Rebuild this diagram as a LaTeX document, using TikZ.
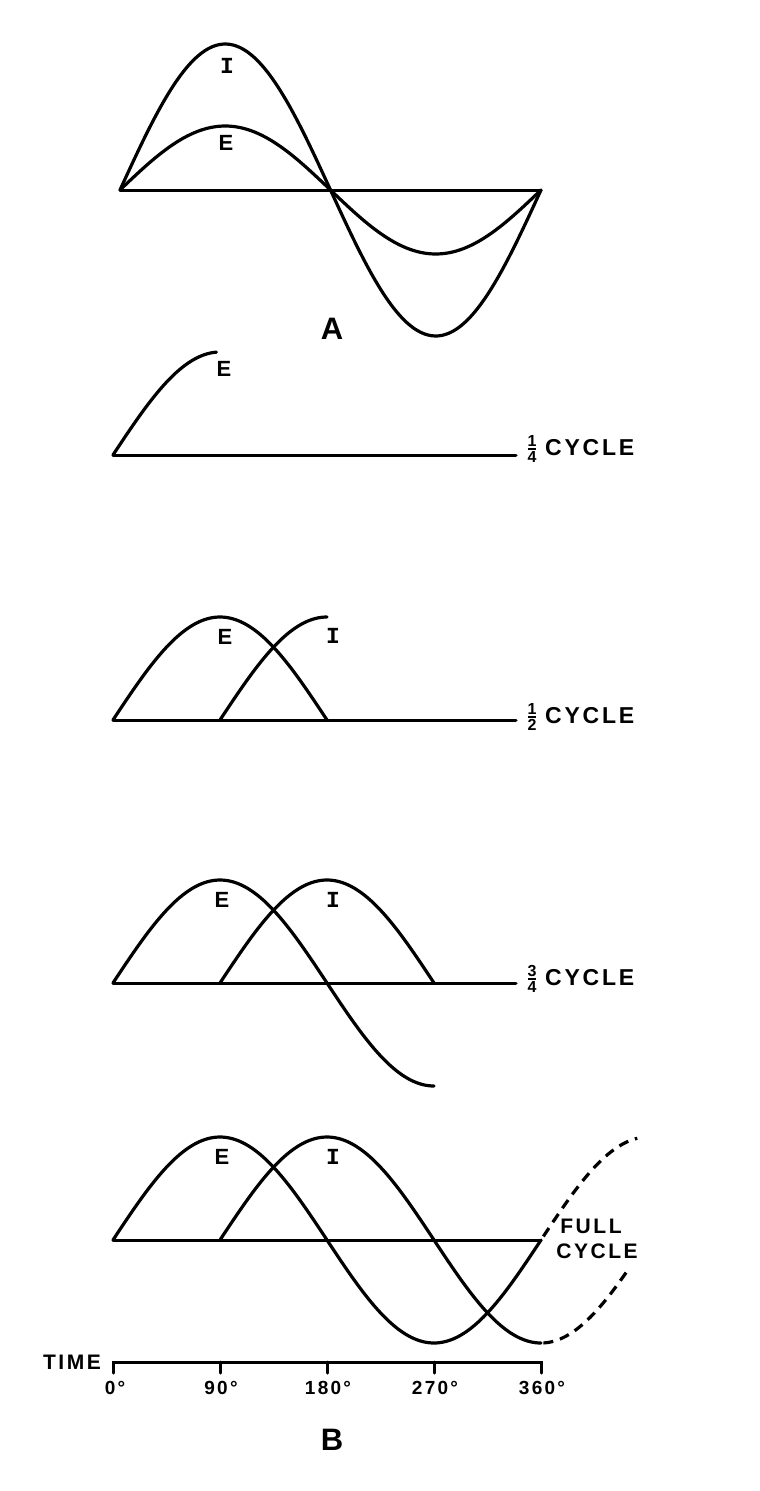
\documentclass[tikz,border=0pt]{standalone}
\usepackage{fontspec}
\setmainfont{Liberation Sans}
\newfontfamily\lettr[LetterSpace=12]{Liberation Sans}
\newfontfamily\serifI{Liberation Mono}
\newcommand\myfrac[2]{{\fontsize{16}{16}\bfseries\selectfont
  \vbox{\offinterlineskip\halign{\hfil##\hfil\cr #1\cr\noalign{\kern2pt\hrule height1.6pt\kern2pt}#2\cr}}}}
\tikzset{
  wave/.style={line width=3.2pt, line cap=round, line join=round},
  axisline/.style={line width=3pt, line cap=round},
  dashwave/.style={line width=3.2pt, dash pattern=on 10pt off 7pt},
  lab/.style={inner sep=0pt, font=\bfseries\fontsize{22}{22}\selectfont},
  ilab/.style={inner sep=0pt, font=\serifI\bfseries\fontsize{23}{23}\selectfont},
  big/.style={inner sep=0pt, font=\bfseries\fontsize{31}{31}\selectfont},
  cyc/.style={inner sep=0pt, font=\lettr\bfseries\fontsize{23}{23}\selectfont},
  deg/.style={inner sep=0pt, font=\lettr\bfseries\fontsize{19}{19}\selectfont},
}
\begin{document}
\begin{tikzpicture}[x=1pt,y=-1pt]
\useasboundingbox (0,0) rectangle (760,1491);
\fill[white] (0,0) rectangle (760,1491);
% ---------- A ----------
\draw[axisline] (120,190) -- (541,190);
\draw[wave] plot[domain=0:360,samples=120,variable=\t] ({120+\t*1.16944},{190-146*sin(\t)});
\draw[wave] plot[domain=0:360,samples=120,variable=\t] ({120+\t*1.16944},{190-64*sin(\t)});
\node[ilab] (aI) at (227,66) {I};
\node[lab] (aE) at (226,143) {E};
\node[big] (lA) at (332,329) {A};
% ---------- 1/4 cycle ----------
\draw[axisline] (113,455) -- (516,455);
\draw[wave] plot[domain=0:87,samples=60,variable=\t] ({113+\t*1.18889},{455-103*sin(\t)});
\node[lab] (qE) at (224,369) {E};
\node (qf) at (532,449) {\myfrac{1}{4}};
\node[cyc,anchor=west] (qc) at (545,448) {CYCLE};
% ---------- 1/2 cycle ----------
\draw[axisline] (113,720) -- (516,720);
\draw[wave] plot[domain=0:180,samples=90,variable=\t] ({113+\t*1.18889},{720-103*sin(\t)});
\draw[wave] plot[domain=90:180,samples=60,variable=\t] ({113+\t*1.18889},{720-103*sin(\t-90)});
\node[lab] (hE) at (225,637) {E};
\node[ilab] (hI) at (333,636) {I};
\node (hf) at (532,717) {\myfrac{1}{2}};
\node[cyc,anchor=west] (hc) at (545,716) {CYCLE};
% ---------- 3/4 cycle ----------
\draw[axisline] (113,983) -- (516,983);
\draw[wave] plot[domain=0:270,samples=120,variable=\t] ({113+\t*1.18889},{983-103*sin(\t)});
\draw[wave] plot[domain=90:270,samples=90,variable=\t] ({113+\t*1.18889},{983-103*sin(\t-90)});
\node[lab] (tE) at (222,900) {E};
\node[ilab] (tI) at (333,900) {I};
\node (tf) at (532,979) {\myfrac{3}{4}};
\node[cyc,anchor=west] (tc) at (545,978) {CYCLE};
% ---------- full cycle ----------
\draw[axisline] (113,1240) -- (541,1240);
\draw[wave] plot[domain=0:360,samples=150,variable=\t] ({113+\t*1.18889},{1240-103*sin(\t)});
\draw[wave] plot[domain=90:360,samples=120,variable=\t] ({113+\t*1.18889},{1240-103*sin(\t-90)});
\draw[dashwave] plot[domain=362:441,samples=40,variable=\t] ({113+\t*1.18889},{1240-103*sin(\t)});
\draw[dashwave] plot[domain=362:432,samples=40,variable=\t] ({113+\t*1.18889},{1240-103*sin(\t-90)});
\node[lab] (fE) at (222,1157) {E};
\node[ilab] (fI) at (333,1157) {I};
\node[cyc,font=\lettr\bfseries\fontsize{21}{21}\selectfont] (ff) at (591,1226) {FULL};
\node[cyc,font=\lettr\bfseries\fontsize{21}{21}\selectfont] (fc) at (597,1251) {CYCLE};
% ---------- time axis ----------
\draw[axisline] (113,1373) -- (113,1362) -- (541,1362) -- (541,1373);
\foreach \k in {1,2,3} \draw[axisline] ({113+\k*107},1362) -- ({113+\k*107},1373);
\node[deg,anchor=east,font=\lettr\bfseries\fontsize{21}{21}\selectfont] (time) at (101,1362) {TIME};
\node[deg] (d0) at (115,1388) {0°};
\node[deg] (d90) at (221,1388) {90°};
\node[deg] (d180) at (328,1388) {180°};
\node[deg] (d270) at (435,1388) {270°};
\node[deg] (d360) at (542,1388) {360°};
\node[big] (lB) at (332,1440) {B};
\end{tikzpicture}
\end{document}
